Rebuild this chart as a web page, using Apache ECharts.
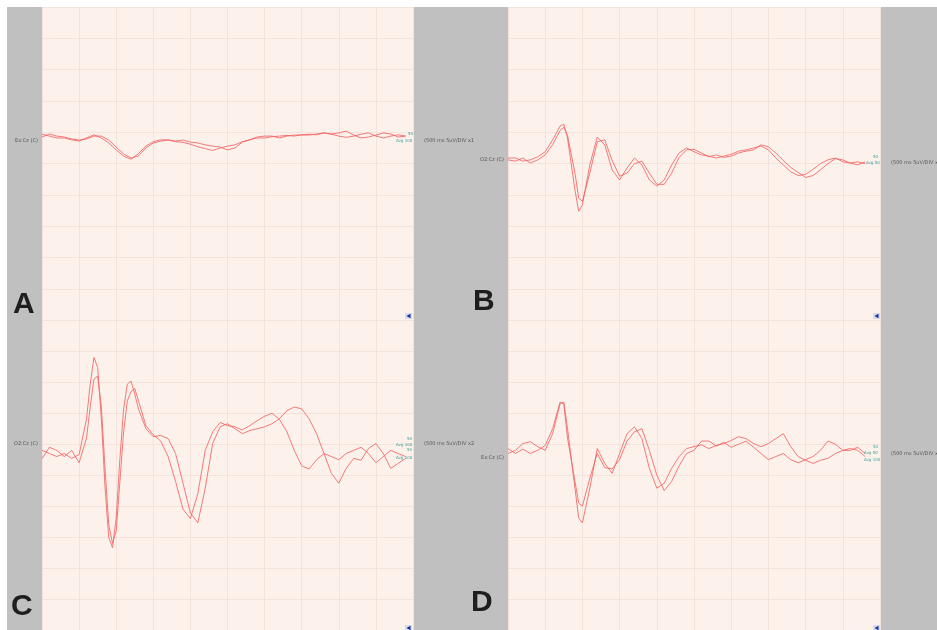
<!DOCTYPE html>
<html>
<head>
<meta charset="utf-8">
<script src="https://cdn.jsdelivr.net/npm/echarts@6/dist/echarts.min.js"></script>
<style>
  html, body { margin: 0; padding: 0; background: #fff; }
  #box { width: 937px; height: 630px; }
</style>
</head>
<body>
<div id="box"></div>
<script>
var mychart = echarts.init(document.getElementById("box"));

// time axis in ms, amplitude in uV (5 uV per division)
var timesA = [0, 10, 20, 30, 40, 50, 60, 70, 80, 90, 100, 110, 120, 130, 140, 150, 160, 170, 180, 190, 200, 210, 220, 230, 240, 250, 260, 270, 280, 290, 300, 310, 320, 330, 340, 350, 360, 370, 380, 390, 400, 410, 420, 430, 440, 450, 460, 470, 480, 490];
var traceA1 = [-0.75, -0.27, -0.6, -0.75, -1.07, -1.23, -1.07, -0.6, -0.6, -1.23, -2.35, -3.46, -4.1, -3.78, -2.5, -1.7, -1.4, -1.23, -1.4, -1.23, -1.55, -1.7, -2.0, -2.2, -2.35, -2.8, -2.5, -1.55, -1.2, -0.75, -0.6, -0.6, -0.9, -0.6, -0.43, -0.43, -0.43, -0.27, -0.1, -0.27, -0.1, 0.2, -0.43, -0.9, -0.75, -0.43, -0.1, -0.27, -0.75, -0.6];
var traceA2 = [-0.3, -0.6, -0.9, -0.9, -1.2, -1.4, -0.9, -0.4, -0.9, -1.7, -2.8, -3.8, -4.3, -3.4, -2.2, -1.5, -1.2, -1.2, -1.5, -1.6, -1.9, -2.3, -2.6, -2.9, -2.5, -2.2, -2.0, -1.5, -1.2, -0.9, -0.9, -0.7, -0.6, -0.5, -0.6, -0.4, -0.3, -0.4, -0.1, -0.3, -0.6, -0.8, -0.6, -0.3, -0.1, -0.6, -0.9, -0.6, -0.4, -0.6];

var timesB = [0, 10, 20, 30, 40, 50, 60, 70, 75, 80, 90, 95, 100, 110, 120, 130, 140, 150, 160, 170, 180, 190, 200, 210, 220, 230, 240, 250, 260, 270, 280, 290, 300, 310, 320, 330, 340, 350, 360, 370, 380, 390, 400, 410, 420, 430, 440, 450, 460, 470, 480];
var traceB1 = [-4.1, -4.1, -4.6, -4.4, -3.9, -3.1, -1.2, 1.0, 1.3, -0.9, -9.2, -12.6, -11.6, -5.2, -0.75, -2.0, -6.0, -7.6, -5.7, -4.1, -5.2, -7.6, -8.6, -7.6, -5.2, -3.3, -2.5, -3.1, -3.6, -3.8, -4.1, -3.8, -3.5, -3.0, -2.8, -2.5, -2.2, -2.8, -4.1, -5.2, -6.3, -6.9, -6.7, -5.9, -5.0, -4.4, -4.1, -4.7, -4.9, -4.7, -5.0];
var traceB2 = [-4.4, -4.6, -4.1, -4.9, -4.4, -3.6, -2.0, 0.3, 0.8, -0.5, -6.5, -10.5, -11.0, -6.5, -1.5, -1.2, -4.5, -7.0, -6.5, -5.0, -4.6, -6.5, -8.3, -8.3, -6.5, -4.0, -2.8, -2.7, -3.3, -3.9, -3.6, -4.0, -3.8, -3.3, -3.0, -2.8, -2.0, -2.3, -3.3, -4.5, -5.6, -6.4, -7.2, -6.9, -6.0, -5.0, -4.2, -4.4, -4.9, -5.2, -4.7];

var timesC = [0, 10, 20, 30, 40, 50, 60, 65, 70, 75, 80, 85, 90, 95, 100, 105, 110, 115, 120, 125, 130, 140, 150, 160, 170, 180, 190, 200, 210, 220, 230, 240, 250, 260, 270, 280, 290, 300, 310, 320, 330, 340, 350, 360, 370, 380, 390, 400, 410, 420, 430, 440, 450, 460, 470, 480, 490];
var traceC1 = [-1.0, -1.5, -2.0, -1.5, -2.3, -1.7, 4.1, 9.7, 14.0, 12.4, 4.1, -7.1, -15.1, -16.7, -11.9, -2.3, 5.7, 9.7, 10.2, 8.1, 5.7, 2.5, 1.2, 1.4, 0.9, -1.5, -6.3, -11.1, -12.7, -7.1, 0.1, 2.8, 3.3, 2.5, 1.7, 2.2, 2.5, 2.8, 3.3, 4.1, 5.4, 6.0, 5.7, 4.1, 1.7, -1.5, -4.7, -6.3, -3.9, -2.3, -2.6, -0.7, 0.1, -1.5, -3.9, -3.1, -2.3];
var traceC2 = [-2.3, -0.5, -1.0, -2.0, -1.0, -3.0, 1.0, 6.0, 10.5, 11.0, 6.0, -4.0, -13.0, -16.0, -14.0, -6.0, 2.0, 7.0, 8.5, 9.0, 7.0, 3.0, 1.5, 0.5, -2.0, -6.0, -10.5, -12.0, -8.0, -1.0, 2.0, 3.5, 3.0, 2.8, 2.3, 3.0, 3.8, 4.5, 5.0, 4.0, 2.0, -1.0, -3.5, -4.0, -2.5, -1.5, -2.0, -2.5, -1.5, -1.0, -0.5, -1.5, -3.0, -2.0, -1.0, -1.5, -2.0];

var timesD = [0, 10, 20, 30, 40, 50, 60, 70, 75, 80, 90, 95, 100, 110, 120, 130, 140, 150, 160, 170, 180, 190, 200, 210, 220, 230, 240, 250, 260, 270, 280, 290, 300, 310, 320, 330, 340, 350, 360, 370, 380, 390, 400, 410, 420, 430, 440, 450, 460, 470, 480];
var traceD1 = [-1.5, -1.0, 0.1, 0.4, -0.4, -1.0, 1.7, 6.5, 6.8, 2.5, -7.1, -11.9, -12.7, -7.1, -0.7, -3.1, -4.7, -1.5, 1.7, 2.8, 0.9, -3.9, -7.1, -6.3, -3.9, -2.0, -0.7, -0.4, -0.1, -0.7, -0.2, 0.1, 0.6, 1.2, 0.9, 0.1, -0.4, 0.1, 0.9, 1.7, -0.4, -2.0, -2.6, -3.1, -2.6, -2.3, -1.5, -1.0, -0.7, -1.0, -2.0];
var traceD2 = [-0.7, -1.5, -0.8, -1.5, -1.0, -0.2, 2.5, 6.8, 6.5, 1.0, -6.0, -9.5, -10.0, -5.5, -1.5, -3.8, -4.0, -2.5, 0.5, 2.0, 2.5, -1.0, -5.0, -7.5, -6.0, -3.5, -1.5, -1.0, 0.5, 0.5, -0.3, 0.3, -0.5, 0.0, 0.5, -0.5, -1.5, -2.5, -2.0, -1.5, -2.5, -3.0, -2.5, -2.0, -1.0, 0.5, 0.0, -1.0, -1.0, -0.5, -1.5];

var panelLetters = ['A', 'B', 'C', 'D'];
var channelNames = ['Ex:Cz (C)', 'O2:Cz (C)', 'O2:Cz (C)', 'Ex:Cz (C)'];
var scaleNotes = ['(500 ms 5uV/DIV x1', '(500 ms 5uV/DIV x', '(500 ms 5uV/DIV x2', '(500 ms 5uV/DIV x'];

function pairs(t, v) {
    return t.map(function (x, i) { return [x, v[i]]; });
}

var panelBg = '#fdf1eb';
var gridLine = '#f3e3dc';
var traceColor = '#f26464';
var grayBg = '#c0c0c0';

var grids = [
    { left: 42, top: 7, width: 371, height: 313.3 },
    { left: 508, top: 7, width: 372, height: 313.3 },
    { left: 42, top: 320.3, width: 371, height: 313.3 },
    { left: 508, top: 320.3, width: 372, height: 313.3 }
];

var xAxes = [], yAxes = [];
grids.forEach(function (g, i) {
    g.show = true;
    g.backgroundColor = panelBg;
    g.borderWidth = 0;
    g.containLabel = false;
    xAxes.push({
        gridIndex: i, type: 'value', min: 0, max: 500, interval: 50,
        axisLine: { show: false }, axisTick: { show: false }, axisLabel: { show: false },
        splitLine: { show: true, lineStyle: { color: gridLine, width: 1 } }
    });
    yAxes.push({
        gridIndex: i, type: 'value', min: -30, max: 20, interval: 5,
        axisLine: { show: false }, axisTick: { show: false }, axisLabel: { show: false },
        splitLine: { show: true, lineStyle: { color: gridLine, width: 1 } }
    });
});

var traces = [
    [timesA, traceA1], [timesA, traceA2],
    [timesB, traceB1], [timesB, traceB2],
    [timesC, traceC1], [timesC, traceC2],
    [timesD, traceD1], [timesD, traceD2]
];
var series = traces.map(function (tr, k) {
    var i = Math.floor(k / 2);
    return {
        type: 'line',
        xAxisIndex: i,
        yAxisIndex: i,
        showSymbol: false,
        animation: false,
        lineStyle: { color: traceColor, width: 1, opacity: 0.85 },
        data: pairs(tr[0], tr[1])
    };
});

function smallText(x, y, txt, color, size) {
    return {
        type: 'text', left: x, top: y, z: 50,
        style: { text: txt, fill: color || '#555', font: (size || 5) + 'px "DejaVu Sans", sans-serif' }
    };
}
function letter(x, y, txt) {
    return {
        type: 'text', left: x, top: y, z: 50,
        style: { text: txt, fill: '#1e1e1e', font: 'bold 30px "Liberation Sans", Arial, sans-serif' }
    };
}
function marker(x, y) {
    return {
        type: 'group', left: x, top: y, z: 50,
        children: [
            { type: 'rect', shape: { x: 0, y: 0, width: 7, height: 6 }, style: { fill: '#d4dcef' } },
            { type: 'polygon', shape: { points: [[1.5, 3], [5.5, 0.8], [5.5, 5.2]] }, style: { fill: '#1a2f9a' } }
        ]
    };
}

var graphics = [
    { type: 'rect', left: 7, top: 7, z: -10, shape: { width: 930, height: 623 }, style: { fill: grayBg } },
    letter(13, 290, panelLetters[0]),
    letter(473, 287, panelLetters[1]),
    letter(11, 592, panelLetters[2]),
    letter(471, 588, panelLetters[3]),
    smallText(15, 138, channelNames[0]),
    smallText(480, 157, channelNames[1]),
    smallText(14, 441, channelNames[2]),
    smallText(481, 455, channelNames[3]),
    smallText(424, 138, scaleNotes[0]),
    smallText(891, 160, scaleNotes[1]),
    smallText(424, 441, scaleNotes[2]),
    smallText(891, 451, scaleNotes[3]),
    smallText(408, 132, '50', '#3a9f9a', 4),
    smallText(396, 139, 'Avg 100', '#3a9f9a', 4),
    smallText(873, 155, '50', '#3a9f9a', 4),
    smallText(866, 161, 'Avg 50', '#3a9f9a', 4),
    smallText(407, 437, '50', '#3a9f9a', 4),
    smallText(396, 443, 'Avg 100', '#3a9f9a', 4),
    smallText(407, 448, '50', '#3a9f9a', 4),
    smallText(396, 456, 'Avg 100', '#3a9f9a', 4),
    smallText(873, 445, '50', '#3a9f9a', 4),
    smallText(864, 451, 'Avg 50', '#3a9f9a', 4),
    smallText(864, 458, 'Avg 100', '#3a9f9a', 4),
    marker(405, 313),
    marker(873, 313),
    marker(405, 625),
    marker(873, 625)
];

var option = {
    backgroundColor: '#ffffff',
    animation: false,
    grid: grids,
    xAxis: xAxes,
    yAxis: yAxes,
    series: series,
    graphic: graphics
};

mychart.setOption(option);
</script>
</body>
</html>
